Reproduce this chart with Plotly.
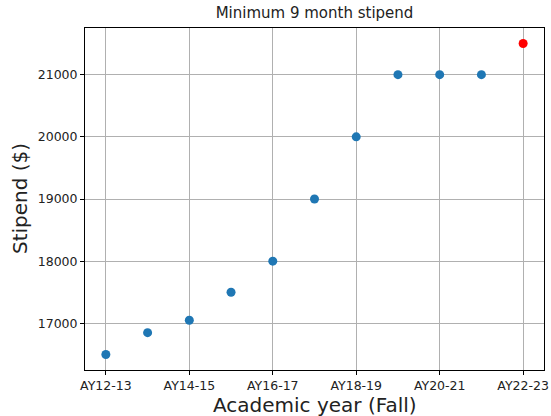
import plotly.graph_objects as go

years = ["AY12-13", "AY13-14", "AY14-15", "AY15-16", "AY16-17", "AY17-18",
         "AY18-19", "AY19-20", "AY20-21", "AY21-22", "AY22-23"]
stipend = [16500, 16850, 17050, 17500, 18000, 19000, 20000, 21000, 21000, 21000, 21500]
point_colors = ["#1f77b4"] * 10 + ["red"]
x_tick_labels = ["AY12-13", "AY14-15", "AY16-17", "AY18-19", "AY20-21", "AY22-23"]
y_ticks = [17000, 18000, 19000, 20000, 21000]

xi = list(range(len(years)))
tick_pos = [years.index(t) for t in x_tick_labels]

fig = go.Figure(go.Scatter(
    x=xi, y=stipend, mode="markers",
    marker=dict(size=9, color=point_colors, line=dict(width=0)),
    hovertext=years,
))

font = "DejaVu Sans, sans-serif"
axis_common = dict(
    showline=True, linecolor="black", linewidth=1, mirror=True,
    ticks="outside", ticklen=4, tickwidth=1, tickcolor="black",
    showgrid=True, gridcolor="#b0b0b0", gridwidth=0.8,
    zeroline=False, automargin=False,
    tickfont=dict(family=font, size=12.5, color="#222"),
)

W, H = 551, 416
L, R, T, B = 85, 7, 28, 46

fig.update_layout(
    width=W, height=H,
    margin=dict(l=L, r=R, t=T, b=B),
    paper_bgcolor="white", plot_bgcolor="white",
    showlegend=False,
    title=dict(text="Minimum 9 month stipend", x=0.5, xref="paper", xanchor="center",
               y=1 - 13 / H, yanchor="middle",
               font=dict(family=font, size=15, color="#222")),
    xaxis=dict(axis_common, range=[-0.5, 10.5], tickvals=tick_pos, ticktext=x_tick_labels),
    yaxis=dict(axis_common, range=[16250, 21750], tickvals=y_ticks,
               ticktext=[str(v) for v in y_ticks]),
    annotations=[
        dict(text="Academic year (Fall)", xref="paper", yref="paper",
             x=0.5, y=-(405 - (H - B)) / (H - T - B), xanchor="center", yanchor="middle",
             showarrow=False, font=dict(family=font, size=20, color="#222")),
        dict(text="Stipend ($)", xref="paper", yref="paper",
             x=-(L - 20) / (W - L - R), y=0.5, xanchor="center", yanchor="middle",
             textangle=-90, showarrow=False,
             font=dict(family=font, size=20, color="#222")),
    ],
)

fig.write_html("out.html", config={"displayModeBar": False},
               post_script="document.body.style.margin='0';document.body.style.overflow='hidden';")
